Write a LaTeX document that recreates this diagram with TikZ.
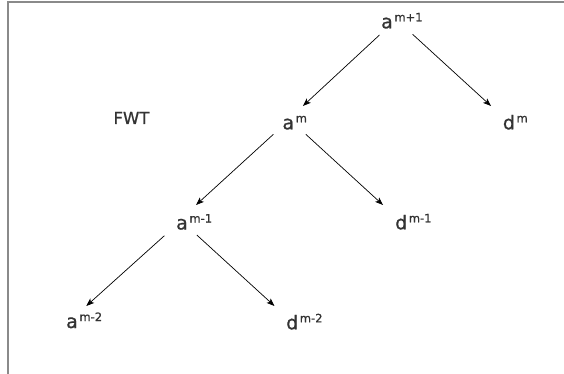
\documentclass[tikz,border=0pt]{standalone}
\usepackage{fontspec}
\setmainfont{DejaVu Sans}
\newfontfamily\lblfont{DejaVu Sans}[FakeBold=0.9]
\usetikzlibrary{arrows.meta}
\definecolor{txt}{HTML}{333333}
\definecolor{frame}{HTML}{8A8A8A}
\newcommand{\mylbl}[2]{{\fontsize{19}{19}\selectfont #1}\hspace{1.6pt}\raisebox{7pt}{\fontsize{11.5}{11.5}\selectfont #2}}
\tikzset{
  lbl/.style={inner sep=0pt, anchor=base west, text=txt, font=\lblfont},
  arr/.style={draw=black, line width=0.7pt, -{Stealth[length=8pt,width=6pt,inset=2pt]}},
  framel/.style={draw=frame, line width=2pt}
}
\begin{document}
\begin{tikzpicture}[x=1pt,y=-1pt]
\useasboundingbox (0,0) rectangle (564,374);
\draw[framel] (8,374) -- (8,2) -- (564,2);
\node[lbl] (a1) at (381,28.3) {\mylbl{a}{m+1}};
\node[lbl] (a0) at (282.3,129.3) {\mylbl{a}{m}};
\node[lbl] (d0) at (502.7,129.3) {\mylbl{d}{m}};
\node[lbl] (am1) at (176,229.5) {\mylbl{a}{m-1}};
\node[lbl] (dm1) at (395,229.3) {\mylbl{d}{m-1}};
\node[lbl] (am2) at (66,328) {\mylbl{a}{m-2}};
\node[lbl] (dm2) at (286,329.3) {\mylbl{d}{m-2}};
\node[lbl] (fwt) at (113.3,124) {\fontsize{16.5}{16.5}\selectfont FWT};
\draw[arr] ([shift={(-1.5,6.7)}]a1.base west) -- ([shift={(20.6,-23.3)}]a0.base west);
\draw[arr] ([shift={(31.6,6)}]a1.base west) -- ([shift={(-11.7,-23.3)}]d0.base west);
\draw[arr] ([shift={(-8.9,5)}]a0.base west) -- ([shift={(20,-24.5)}]am1.base west);
\draw[arr] ([shift={(23.5,5)}]a0.base west) -- ([shift={(-12,-24.3)}]dm1.base west);
\draw[arr] ([shift={(-11.6,6.2)}]am1.base west) -- ([shift={(20.3,-22)}]am2.base west);
\draw[arr] ([shift={(20.8,5.5)}]am1.base west) -- ([shift={(-11.5,-23.3)}]dm2.base west);
\end{tikzpicture}
\end{document}
